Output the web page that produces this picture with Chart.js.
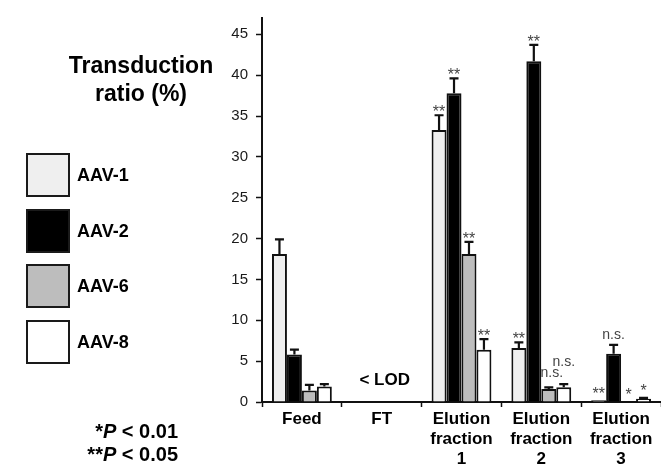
<!DOCTYPE html>
<html>
<head>
<meta charset="utf-8">
<script src="https://cdn.jsdelivr.net/npm/chart.js@4.4.0/dist/chart.umd.min.js"></script>
<style>
  html, body { margin: 0; padding: 0; background: #fff; }
  #wrap { position: relative; width: 661px; height: 464px; font-family: "Liberation Sans", Arial, sans-serif; color: #000; }
  #chart { position: absolute; left: 0; top: 0; }
  .title { position: absolute; left: 41px; top: 51px; width: 200px; text-align: center; font-weight: bold; font-size: 23px; line-height: 28px; }
  .key { position: absolute; left: 26px; width: 44px; height: 44px; box-sizing: border-box; border: 2.5px solid #1a1a1a; }
  .key-label { position: absolute; left: 77px; font-weight: bold; font-size: 18px; line-height: 44px; }
  .note { position: absolute; right: 483px; font-weight: bold; font-size: 20px; line-height: 23px; text-align: right; white-space: nowrap; }
</style>
</head>
<body>
<div id="wrap">
  <canvas id="chart" width="661" height="464"></canvas>
  <div class="title">Transduction<br>ratio (%)</div>
  <div id="legend"></div>
  <div class="note" style="top:420px">*<i>P</i> &lt; 0.01</div>
  <div class="note" style="top:443px">**<i>P</i> &lt; 0.05</div>
</div>
<script>
// categories and values
var categories = ["Feed", "FT", ["Elution", "fraction", "1"], ["Elution", "fraction", "2"], ["Elution", "fraction", "3"]];
var seriesNames = ["AAV-1", "AAV-2", "AAV-6", "AAV-8"];

var aav1 = [18.1, null, 33.3, 6.6, 0.2];
var aav2 = [5.8, null, 37.8, 41.7, 5.9];
var aav6 = [1.4, null, 18.1, 1.6, 0];
var aav8 = [1.9, null, 6.4, 1.8, 0.4];

// upper error (SD) per bar
var aav1Err = [1.8, 0, 1.8, 0.7, 0];
var aav2Err = [0.6, 0, 1.8, 2.0, 1.1];
var aav6Err = [0.7, 0, 1.5, 0.2, 0];
var aav8Err = [0.3, 0, 1.3, 0.4, 0.1];

// significance marks
var aav1Sig = ["", "", "**", "**", "**"];
var aav2Sig = ["", "", "**", "**", "n.s."];
var aav6Sig = ["", "", "**", "n.s.", "*"];
var aav8Sig = ["", "", "**", "n.s.", "*"];

var yTicks = [0, 5, 10, 15, 20, 25, 30, 35, 40, 45];
var lodText = "< LOD";

var fills = ["#efefef", "#000000", "#bdbdbd", "#ffffff"];
var errors = [aav1Err, aav2Err, aav6Err, aav8Err];
var sigs = [aav1Sig, aav2Sig, aav6Sig, aav8Sig];
// extra lift (px) for crowded labels, keyed "series-category"
var sigLift = { "2-3": 4, "3-3": 12, "0-4": 3, "2-4": 4, "3-4": 4 };

var FONT = "'Liberation Sans', Arial, sans-serif";

// html legend on the left
var legendEl = document.getElementById("legend");
var keyTops = [153, 209, 264, 320];
seriesNames.forEach(function (name, i) {
  var box = document.createElement("div");
  box.className = "key";
  box.style.top = keyTops[i] + "px";
  box.style.background = fills[i];
  legendEl.appendChild(box);
  var lab = document.createElement("div");
  lab.className = "key-label";
  lab.style.top = keyTops[i] + "px";
  lab.textContent = name;
  legendEl.appendChild(lab);
});

var extrasPlugin = {
  id: "extras",
  afterDatasetsDraw: function (chart) {
    var ctx = chart.ctx;
    var y = chart.scales.y;
    var x = chart.scales.x;
    ctx.save();
    chart.data.datasets.forEach(function (ds, di) {
      var meta = chart.getDatasetMeta(di);
      meta.data.forEach(function (bar, i) {
        var v = ds.data[i];
        if (v === null) return;
        var e = errors[di][i];
        var top = y.getPixelForValue(v + e);
        if (e > 0) {
          ctx.strokeStyle = "#111";
          ctx.lineWidth = 2.2;
          ctx.beginPath();
          ctx.moveTo(bar.x, y.getPixelForValue(v));
          ctx.lineTo(bar.x, top);
          ctx.moveTo(bar.x - 4.5, top);
          ctx.lineTo(bar.x + 4.5, top);
          ctx.stroke();
        }
        var s = sigs[di][i];
        if (!s) return;
        var lift = sigLift[di + "-" + i] || 0;
        ctx.fillStyle = "#444";
        ctx.textAlign = "center";
        ctx.textBaseline = "alphabetic";
        if (s === "n.s.") {
          ctx.font = "14px " + FONT;
          ctx.fillText(s, bar.x + (di === 2 && i === 3 ? 3 : 0), top - 6 - lift);
        } else {
          ctx.font = "16px " + FONT;
          ctx.fillText(s, bar.x, top + 2 - lift);
        }
      });
    });
    // below limit of detection marker for FT
    ctx.fillStyle = "#000";
    ctx.font = "bold 17px " + FONT;
    ctx.textAlign = "center";
    ctx.textBaseline = "middle";
    ctx.fillText(lodText, x.getPixelForValue(1) + 3, y.getPixelForValue(2.7));
    ctx.restore();
  }
};

var datasetsList = [aav1, aav2, aav6, aav8].map(function (vals, i) {
  return {
    label: seriesNames[i],
    data: vals,
    backgroundColor: fills[i],
    borderColor: "#111",
    borderWidth: 2,
    categoryPercentage: 0.75,
    barPercentage: 1.0
  };
});

new Chart(document.getElementById("chart"), {
  type: "bar",
  data: { labels: categories, datasets: datasetsList },
  plugins: [extrasPlugin],
  options: {
    responsive: false,
    animation: false,
    devicePixelRatio: 1,
    layout: { padding: { left: 212, top: 18, right: 0, bottom: 0 } },
    plugins: { legend: { display: false }, tooltip: { enabled: false } },
    scales: {
      x: {
        grid: { display: true, drawOnChartArea: false, drawTicks: true, tickLength: 5, tickColor: "#111", tickWidth: 1.5, offset: true },
        border: { color: "#111", width: 2 },
        ticks: { color: "#000", padding: 2, maxRotation: 0, autoSkip: false, font: { family: FONT, size: 17, weight: "bold", lineHeight: 1.18 } },
        afterFit: function (scale) { scale.height = 62; }
      },
      y: {
        min: 0,
        max: 47,
        grid: { display: true, drawOnChartArea: false, drawTicks: true, tickLength: 6, tickColor: "#111", tickWidth: 1.5 },
        border: { color: "#111", width: 2 },
        ticks: { color: "#1a1a1a", padding: 8, stepSize: 5, font: { family: FONT, size: 15 } },
        afterBuildTicks: function (scale) {
          scale.ticks = yTicks.map(function (v) { return { value: v }; });
        },
        afterFit: function (scale) { scale.width = 50; }
      }
    }
  }
});
</script>
</body>
</html>
